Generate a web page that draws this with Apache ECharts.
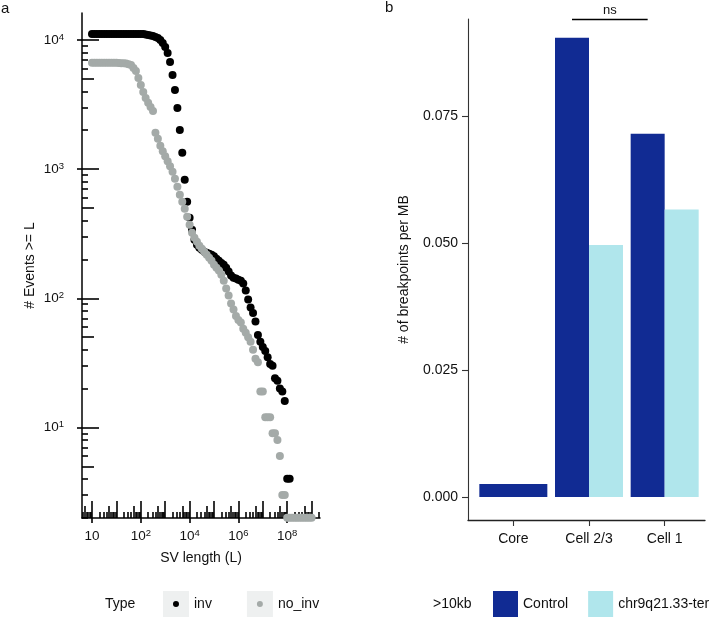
<!DOCTYPE html>
<html><head><meta charset="utf-8">
<script src="https://cdn.jsdelivr.net/npm/echarts@6/dist/echarts.min.js"></script>
<style>html,body{margin:0;padding:0;background:#fff}#c{width:717px;height:619px}</style>
</head><body><div id="c"></div>
<script>
// ---------- Panel a: cumulative SV counts (log-spaced SV length grid) ----------
const svLength = [
  1, 1.26, 1.58, 2, 2.51, 3.16, 3.98, 5.01, 6.31, 7.94,
  10, 12.6, 15.8, 20, 25.1, 31.6, 39.8, 50.1, 63.1, 79.4,
  100, 126, 158, 200, 251, 316, 398, 501, 631, 794,
  1e3, 1.26e3, 1.58e3, 2e3, 2.51e3, 3.16e3, 3.98e3, 5.01e3, 6.31e3, 7.94e3,
  1e4, 1.26e4, 1.58e4, 2e4, 2.51e4, 3.16e4, 3.98e4, 5.01e4, 6.31e4, 7.94e4,
  1e5, 1.26e5, 1.58e5, 2e5, 2.51e5, 3.16e5, 3.98e5, 5.01e5, 6.31e5, 7.94e5,
  1e6, 1.26e6, 1.58e6, 2e6, 2.51e6, 3.16e6, 3.98e6, 5.01e6, 6.31e6, 7.94e6,
  1e7, 1.26e7, 1.58e7, 2e7, 2.51e7, 3.16e7, 3.98e7, 5.01e7, 6.31e7, 7.94e7,
  1e8, 1.26e8, 1.58e8, 2e8, 2.51e8, 3.16e8, 3.98e8, 5.01e8, 6.31e8, 7.94e8,
  1e9
];
const invCounts = [
  11130, 11130, 11130, 11130, 11130, 11130, 11130, 11130, 11130, 11130,
  11130, 11130, 11130, 11130, 11130, 11130, 11100, 11100, 11100, 11100,
  11100, 11100, 11030, 10930, 10840, 10740, 10550, 10360, 10000, 9480,
  8830, 7940, 6760, 5360, 4100, 2980, 2010, 1340, 826, 559,
  420, 339, 284, 260, 246, 238, 229, 225, 221, 217,
  212, 202, 195, 188, 182, 172, 161, 150, 144, 142,
  139, 137, 130, 115, 98, 85, 77, 66, 52, 46,
  42, 39, 35, 31, 30, 24, 23, 20, 19, 16,
  4, 4, null, null, null, null, null, null, null, null,
  null
];
const noInvCounts = [
  6650, 6650, 6650, 6650, 6650, 6650, 6650, 6650, 6650, 6650,
  6650, 6630, 6610, 6590, 6560, 6500, 6410, 6070, 5760, 5080,
  4490, 3960, 3560, 3260, 3030, 2820, 1910, 1715, 1514, 1373,
  1256, 1149, 1051, 953, 841, 730, 633, 559, 493, 428,
  371, 322, 294, 274, 255, 242, 229, 217, 206, 195,
  182, 172, 164, 152, 137, 119, 105, 91, 82, 73,
  68, 65, 58, 54, 50, 46, 40, 34, 32, 19,
  19, 12, 12, 12, 9, 9, 8, 6, 3, 3,
  2, 2, 2, 2, 2, 2, 2, 2, 2, 2,
  2
];
const typeNames = ['inv', 'no_inv'];
const xTickValues = [1, 100, 1e4, 1e6, 1e8];
const xTickLabels = ['10', '10^2', '10^4', '10^6', '10^8'];
const yTickValues = [10, 100, 1000, 10000];
const yTickLabels = ['10^1', '10^2', '10^3', '10^4'];

// ---------- Panel b: breakpoints per MB ----------
const categories = ['Core', 'Cell 2/3', 'Cell 1'];
const groupNames = ['Control', 'chr9q21.33-ter'];
const controlValues = [0.00256, 0.0904, 0.0715];
const chr9Values = [null, 0.0496, 0.0566];
const barTickValues = [0, 0.025, 0.05, 0.075];
const bracketFrom = 'Cell 2/3', bracketTo = 'Cell 1', bracketY = 0.094, bracketLabel = 'ns';

// ---------- styling ----------
const FONT = "'Liberation Sans', Arial, Helvetica, sans-serif";
const TXT = '#111';
const C_INV = '#000000', C_NOINV = '#a4aaa8', C_CTRL = '#112b93', C_CHR9 = '#b0e6ec';
const xMin = 0.389, xMax = 2.21e9, yMin = 1.99, yMax = 16175;
const barMin = -0.004528, barMax = 0.09409;

function logTicks(min, max, mults) {
  const out = [];
  for (let e = -2; e <= 10; e++) for (const m of mults) {
    const v = m * Math.pow(10, e);
    if (v >= min && v <= max) out.push(v);
  }
  return out;
}
function supFormatter(values, labels) {
  return function (v) {
    const i = values.findIndex(t => Math.abs(Math.log10(t) - Math.log10(v)) < 1e-6);
    if (i < 0) return '';
    const parts = labels[i].split('^');
    return parts[1] ? '{b|' + parts[0] + '}{s|' + parts[1] + '}' : '{b|' + parts[0] + '}';
  };
}
const rich = {
  b: { fontSize: 13.5, lineHeight: 16, color: TXT, fontFamily: FONT },
  s: { fontSize: 9.5, lineHeight: 10, verticalAlign: 'top', color: TXT, fontFamily: FONT }
};
const tickSets = [
  { mults: [1], len: 17 },
  { mults: [5], len: 12 },
  { mults: [2, 3, 4, 6, 7, 8, 9], len: 6 }
];
const TICK_W = 1.6;

const xAxes = [], yAxes = [];
xAxes.push({
  type: 'log', gridIndex: 0, position: 'bottom', min: xMin, max: xMax,
  axisLine: { show: true, onZero: false, lineStyle: { color: '#000', width: 1.5 } },
  axisTick: { show: true, customValues: xTickValues, length: 5, lineStyle: { color: '#000', width: TICK_W } },
  axisLabel: { show: true, customValues: xTickValues, formatter: supFormatter(xTickValues, xTickLabels), rich: rich, margin: 10 },
  splitLine: { show: false },
  name: 'SV length (L)', nameLocation: 'middle', nameGap: 33,
  nameTextStyle: { fontSize: 14, color: TXT, fontFamily: FONT }
});
yAxes.push({
  type: 'log', gridIndex: 0, position: 'left', min: yMin, max: yMax,
  axisLine: { show: true, onZero: false, lineStyle: { color: '#000', width: 1.5 } },
  axisTick: { show: true, customValues: yTickValues, length: 5, lineStyle: { color: '#000', width: TICK_W } },
  axisLabel: { show: true, customValues: yTickValues, formatter: supFormatter(yTickValues, yTickLabels), rich: rich, margin: 18 },
  splitLine: { show: false },
  name: '# Events >= L', nameLocation: 'middle', nameGap: 45,
  nameTextStyle: { fontSize: 14, color: TXT, fontFamily: FONT }
});
tickSets.forEach(ts => {
  xAxes.push({
    type: 'log', gridIndex: 0, position: 'bottom', min: xMin, max: xMax,
    axisLine: { show: false, onZero: false }, axisLabel: { show: false }, splitLine: { show: false },
    axisTick: { show: true, inside: true, length: ts.len, customValues: logTicks(xMin, xMax, ts.mults), lineStyle: { color: '#000', width: TICK_W } }
  });
  yAxes.push({
    type: 'log', gridIndex: 0, position: 'left', min: yMin, max: yMax,
    axisLine: { show: false, onZero: false }, axisLabel: { show: false }, splitLine: { show: false },
    axisTick: { show: true, inside: true, length: ts.len, customValues: logTicks(yMin, yMax, ts.mults), lineStyle: { color: '#000', width: TICK_W } }
  });
});
xAxes.push({ // index 4
  type: 'value', gridIndex: 1, position: 'bottom', min: 0, max: 1,
  axisLine: { show: true, onZero: false, lineStyle: { color: '#222', width: 1.3 } },
  axisTick: { show: false }, axisLabel: { show: false }, splitLine: { show: false }
});
yAxes.push({ // index 4
  type: 'value', gridIndex: 1, position: 'left', min: barMin, max: barMax,
  axisLine: { show: true, onZero: false, lineStyle: { color: '#333', width: 1.1 } },
  axisTick: { show: true, customValues: barTickValues, length: 6, lineStyle: { color: '#333', width: 1.1 } },
  axisLabel: { show: true, customValues: barTickValues, formatter: v => v.toFixed(3), margin: 10, fontSize: 14, color: TXT, fontFamily: FONT },
  splitLine: { show: false },
  name: '# of breakpoints per MB', nameLocation: 'middle', nameGap: 57,
  nameTextStyle: { fontSize: 14, color: TXT, fontFamily: FONT }
});
xAxes.push({ // index 5
  type: 'category', gridIndex: 2, position: 'bottom', data: categories,
  axisLine: { show: false, onZero: false },
  axisTick: { show: true, alignWithLabel: true, length: 6, lineStyle: { color: '#333', width: 1.1 } },
  axisLabel: { show: true, margin: 12, fontSize: 14, color: TXT, fontFamily: FONT },
  splitLine: { show: false }
});
xAxes.push({ // index 6
  type: 'category', gridIndex: 2, position: 'bottom', data: categories, show: false
});
yAxes.push({ // index 5
  type: 'value', gridIndex: 2, min: barMin, max: barMax, show: false, splitLine: { show: false }
});

const invData = [], noInvData = [];
svLength.forEach((L, i) => {
  if (invCounts[i] != null) invData.push([L, invCounts[i]]);
  if (noInvCounts[i] != null) noInvData.push([L, noInvCounts[i]]);
});
const coreOnly = controlValues.map((v, i) => chr9Values[i] == null ? v : '-');
const ctrlDodge = controlValues.map((v, i) => chr9Values[i] == null ? '-' : v);
const chr9Dodge = chr9Values.map(v => v == null ? '-' : v);

const dotIcon = 'path://M0 0L0.01 0M26 26L26.01 26M10 13A3 3 0 1 1 16 13A3 3 0 1 1 10 13Z';
const titleStyle = (size) => ({ fontSize: size, fontWeight: 'normal', color: TXT, fontFamily: FONT });

const option = {
  animation: false,
  backgroundColor: '#fff',
  textStyle: { fontFamily: FONT },
  title: [
    { text: 'a', left: 1, top: 1, padding: 0, textStyle: titleStyle(15) },
    { text: 'b', left: 385, top: 0, padding: 0, textStyle: titleStyle(15) },
    { text: 'Type', left: 105, top: 597, padding: 0, textStyle: titleStyle(14) },
    { text: '>10kb', left: 433, top: 597, padding: 0, textStyle: titleStyle(14) }
  ],
  legend: [
    { data: typeNames, left: 163, top: 591, padding: 0, itemWidth: 26, itemHeight: 26, itemGap: 35,
      icon: 'rect', itemStyle: { color: '#eef0f0' }, selectedMode: false,
      textStyle: { fontSize: 14, color: TXT, fontFamily: FONT } },
    { data: typeNames, left: 163, top: 591, padding: 0, itemWidth: 26, itemHeight: 26, itemGap: 35,
      icon: dotIcon, selectedMode: false,
      textStyle: { fontSize: 14, color: 'rgba(0,0,0,0)', fontFamily: FONT } },
    { data: groupNames, left: 493, top: 591, padding: 0, itemWidth: 25, itemHeight: 26, itemGap: 20,
      icon: 'rect', selectedMode: false,
      textStyle: { fontSize: 14, color: TXT, fontFamily: FONT } }
  ],
  grid: [
    { left: 82, top: 13, width: 238, height: 505, outerBoundsMode: 'none' },
    { left: 468, top: 19, width: 237, height: 501, outerBoundsMode: 'none' },
    { left: 475.5, top: 19, width: 227, height: 501, outerBoundsMode: 'none' }
  ],
  xAxis: xAxes,
  yAxis: yAxes,
  series: [
    { name: typeNames[0], type: 'scatter', xAxisIndex: 0, yAxisIndex: 0, data: invData,
      symbolSize: 8, itemStyle: { color: C_INV, opacity: 1 }, emphasis: { disabled: true }, clip: false },
    { name: typeNames[1], type: 'scatter', xAxisIndex: 0, yAxisIndex: 0, data: noInvData,
      symbolSize: 8, itemStyle: { color: C_NOINV, opacity: 1 }, emphasis: { disabled: true }, clip: false },
    { name: groupNames[0], type: 'bar', xAxisIndex: 6, yAxisIndex: 5, data: coreOnly, barWidth: 68,
      itemStyle: { color: C_CTRL }, emphasis: { disabled: true } },
    { name: groupNames[0], type: 'bar', xAxisIndex: 5, yAxisIndex: 5, data: ctrlDodge, barWidth: 34, barGap: 0,
      itemStyle: { color: C_CTRL }, emphasis: { disabled: true },
      markLine: {
        silent: true, symbol: ['none', 'none'], animation: false,
        lineStyle: { color: '#000', width: 1.4, type: 'solid' },
        label: { show: true, formatter: bracketLabel, position: 'insideMiddleTop', distance: 3,
                 fontSize: 13, color: TXT, fontFamily: FONT },
        emphasis: { disabled: true },
        data: [[{ xAxis: bracketFrom, yAxis: bracketY }, { xAxis: bracketTo, yAxis: bracketY }]]
      } },
    { name: groupNames[1], type: 'bar', xAxisIndex: 5, yAxisIndex: 5, data: chr9Dodge, barWidth: 34, barGap: 0,
      itemStyle: { color: C_CHR9 }, emphasis: { disabled: true } }
  ]
};
const chart = echarts.init(document.getElementById('c'), null, { renderer: 'canvas' });
chart.setOption(option);
</script>
</body></html>
